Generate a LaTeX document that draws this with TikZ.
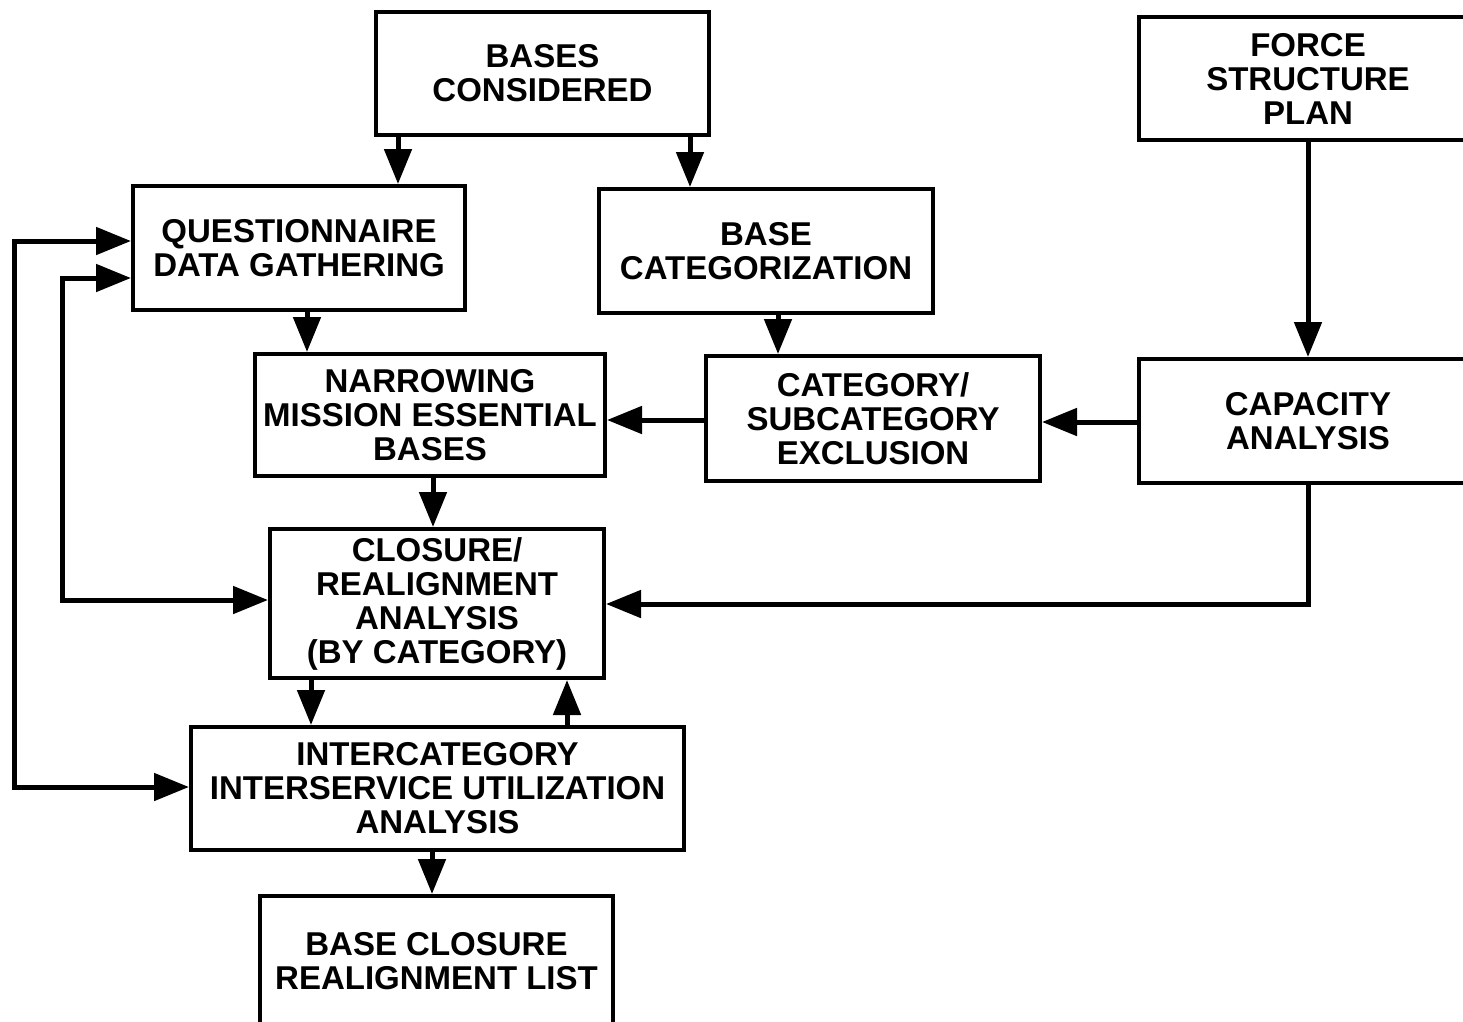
\documentclass[tikz,border=0pt]{standalone}
\usepackage{fontspec}
\setmainfont{Liberation Sans}
\usetikzlibrary{arrows.meta,calc}
\begin{document}
\begin{tikzpicture}[x=1pt,y=-1pt,
  box/.style={draw,line width=4pt,align=center,inner sep=0pt,
    font=\fontsize{33}{34}\selectfont\bfseries},
  flow/.style={line width=5pt,-{Triangle[length=35pt,width=27pt]}},
  flow2/.style={line width=5pt,{Triangle[length=35pt,width=27pt]}-{Triangle[length=35pt,width=27pt]}}]
\useasboundingbox (0,0) rectangle (1463,1021);

% process boxes
\node[box,minimum width=333pt,minimum height=123pt] (bc)   at (542.5,73.5) {BASES\\CONSIDERED};
\node[box,minimum width=338pt,minimum height=123pt] (fsp)  at (1308,78.5)  {FORCE\\STRUCTURE\\PLAN};
\node[box,minimum width=332pt,minimum height=124pt] (qdg)  at (299,248)    {QUESTIONNAIRE\\DATA GATHERING};
\node[box,minimum width=334pt,minimum height=124pt] (bcat) at (766,251)    {BASE\\CATEGORIZATION};
\node[box,minimum width=350pt,minimum height=122pt] (nmeb) at (430,415)    {NARROWING\\MISSION ESSENTIAL\\BASES};
\node[box,minimum width=334pt,minimum height=125pt] (cse)  at (873,418.5)  {CATEGORY/\\SUBCATEGORY\\EXCLUSION};
\node[box,minimum width=338pt,minimum height=124pt] (cap)  at (1308,421)   {CAPACITY\\ANALYSIS};
\node[box,minimum width=334pt,minimum height=149pt] (cra)  at (437,603.5)  {CLOSURE/\\REALIGNMENT\\ANALYSIS\\(BY CATEGORY)};
\node[box,minimum width=493pt,minimum height=123pt] (iiua) at (437.5,788.5) {INTERCATEGORY\\INTERSERVICE UTILIZATION\\ANALYSIS};
\node[box,minimum width=353pt,minimum height=130pt] (bcrl) at (436.5,961)  {BASE CLOSURE\\REALIGNMENT LIST};

% corner points of the routed connectors
\coordinate (capturn) at (1308,604);
\coordinate (outtop) at (14,241);
\coordinate (outbot) at (14,787);
\coordinate (intop) at (62,278);
\coordinate (inbot) at (62,600);

% straight connectors
\draw[flow] (bc.south -| 398,0) -- (qdg.north -| 398,0);
\draw[flow] (bc.south -| 690,0) -- (bcat.north -| 690,0);
\draw[flow] (fsp.south) -- (cap.north);
\draw[flow] (qdg.south -| 307,0) -- (nmeb.north -| 307,0);
\draw[flow] (bcat.south -| 778,0) -- (cse.north -| 778,0);
\draw[flow] (cse.west |- 0,420) -- (nmeb.east |- 0,420);
\draw[flow] (cap.west |- 0,422) -- (cse.east |- 0,422);
\draw[flow] (nmeb.south -| 433,0) -- (cra.north -| 433,0);
\draw[flow] (cra.south -| 311,0) -- (iiua.north -| 311,0);
\draw[flow] (iiua.north -| 567,0) -- (cra.south -| 567,0);
\draw[flow] (iiua.south -| 432,0) -- (bcrl.north -| 432,0);

% routed connectors
\draw[flow] (cap.south) -- (capturn) -- (cra.east |- capturn);
\draw[flow2] (qdg.west |- outtop) -- (outtop) -- (outbot) -- (iiua.west |- outbot);
\draw[flow2] (qdg.west |- intop) -- (intop) -- (inbot) -- (cra.west |- inbot);
\end{tikzpicture}
\end{document}
